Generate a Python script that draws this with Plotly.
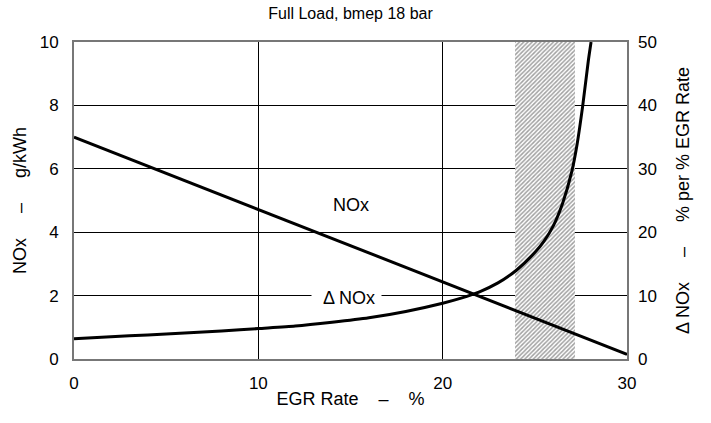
import plotly.graph_objects as go

# Data
egr_nox = [0, 30]
nox = [7.0, 0.15]

egr_delta = [0, 2, 4, 6, 8, 10, 12, 14, 16, 18, 20, 21, 22, 23, 24, 25, 25.5, 26, 26.5, 27, 27.3, 27.6, 27.9, 28.05]
delta_nox = [3.2, 3.5, 3.8, 4.1, 4.4, 4.8, 5.2, 5.8, 6.5, 7.5, 8.8, 9.6, 10.6, 12.0, 14.0, 16.8, 18.6, 21.0, 24.5, 29.5, 34.0, 40.0, 47.0, 50.0]

hatch_band = [23.9, 27.2]

FONT = "Liberation Sans, Arial, sans-serif"
NB = "\u00a0"


def spaced(a, b, n):
    return a + NB * n + "–" + NB * n + b


fig = go.Figure()

fig.add_trace(go.Bar(
    x=[(hatch_band[0] + hatch_band[1]) / 2], y=[10], width=[hatch_band[1] - hatch_band[0]],
    marker=dict(color="white", line=dict(width=0),
                pattern=dict(shape="/", fgcolor="#444444", bgcolor="white", size=3, solidity=0.5)),
    showlegend=False, hoverinfo="skip"))

fig.add_trace(go.Scatter(x=egr_nox, y=nox, mode="lines",
                         line=dict(color="black", width=3), showlegend=False))
fig.add_trace(go.Scatter(x=egr_delta, y=delta_nox, mode="lines", yaxis="y2",
                         line=dict(color="black", width=3, shape="spline", smoothing=0.6),
                         showlegend=False))

fig.add_annotation(x=15, y=4.86, text="NOx", showarrow=False,
                   font=dict(size=18, color="black", family=FONT))
fig.add_annotation(x=14.8, y=2.0, text=NB * 2 + "Δ NOx" + NB, showarrow=False, bgcolor="white",
                   font=dict(size=18, color="black", family=FONT), yshift=-2)

fig.update_layout(
    width=711, height=423,
    margin=dict(l=74, r=84, t=42, b=64),
    paper_bgcolor="white", plot_bgcolor="white",
    font=dict(family=FONT, size=17, color="black"),
    title=dict(text="Full Load, bmep 18 bar", x=0.493, xanchor="center", y=0.968, yanchor="middle",
               font=dict(size=16, family=FONT, color="black")),
    xaxis=dict(range=[0, 30], dtick=10, tick0=0, showgrid=True, gridcolor="black", gridwidth=1,
               zeroline=False, showline=True, linecolor="#777777", linewidth=2, mirror=True,
               ticks="", ticklabelstandoff=8,
               title=dict(text=spaced("EGR Rate", "%", 4), standoff=0, font=dict(size=18))),
    yaxis=dict(range=[0, 10], dtick=2, tick0=0, showgrid=True, gridcolor="black", gridwidth=1,
               zeroline=False, showline=True, linecolor="#777777", linewidth=2, mirror=True,
               ticks="", ticklabelstandoff=10,
               title=dict(text=spaced("NOx", "g/kWh", 5), standoff=8, font=dict(size=18))),
    yaxis2=dict(range=[0, 50], dtick=10, tick0=0, overlaying="y", side="right", showgrid=False,
                zeroline=False, showline=False, ticks="", ticklabelstandoff=10,
                title=dict(text=spaced("Δ NOx", "% per % EGR Rate", 5), standoff=20, font=dict(size=18))),
    bargap=0,
)

fig.write_html("out.html")
